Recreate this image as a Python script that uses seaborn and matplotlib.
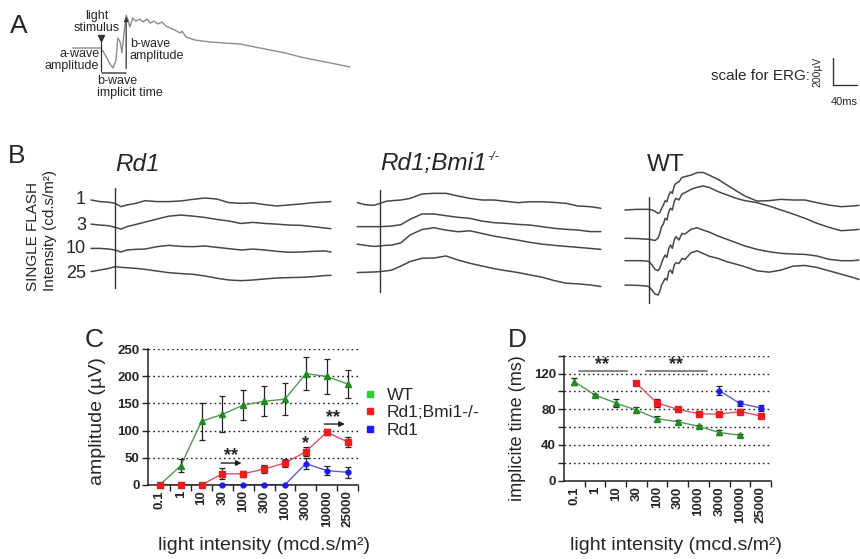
import numpy as np
import pandas as pd
import seaborn as sns
import matplotlib.pyplot as plt
from matplotlib.lines import Line2D

sns.set_style('white')
plt.rcParams['font.family'] = ['Liberation Sans', 'DejaVu Sans']

# ---------------- data ----------------
intensity = ['0.1', '1', '10', '30', '100', '300', '1000', '3000', '10000', '25000']
groups = ['WT', 'Rd1;Bmi1-/-', 'Rd1']
nan = np.nan

# C: b-wave amplitude (uV)
amp_wt = [0, 35, 117, 130, 147, 154, 158, 205, 200, 186]
amp_wt_err = [0, 12, 34, 33, 28, 28, 30, 31, 32, 25]
amp_bmi = [0, 0, 0, 20, 20, 29, 40, 61, 97, 79]
amp_bmi_err = [0, 0, 0, 10, 6, 7, 7, 8, 6, 9]
amp_rd1 = [nan, nan, nan, 0, 0, 0, 0, 39, 26, 23]
amp_rd1_err = [nan, nan, nan, 0, 0, 0, 0, 10, 9, 10]

# D: b-wave implicit time (ms)
imp_wt = [111, 96, 87, 79, 69.5, 66, 61, 54, 51, nan]
imp_wt_err = [4.3, 1.5, 4, 3.5, 3, 2, 1.5, 2.5, 1.5, nan]
imp_bmi = [nan, nan, nan, 109, 87, 80, 75, 74.5, 77.5, 72.5]
imp_bmi_err = [nan, nan, nan, 1.5, 4, 2.5, 3, 2.5, 2.5, 2.5]
imp_rd1 = [nan, nan, nan, nan, nan, nan, nan, 101, 86.5, 81.5]
imp_rd1_err = [nan, nan, nan, nan, nan, nan, nan, 5.5, 3, 3.5]

# A: example ERG (ms after flash, uV)
a_t = [-47, -18, 0, 7, 15, 20, 25, 28, 32, 35, 38, 42, 45, 48, 53, 58, 65, 70, 77, 82,
       88, 95, 102, 108, 115, 123, 132, 135, 142, 157, 182, 207, 232, 257, 282, 307, 332, 357, 382, 415]
a_v = [0, 0, 0, -52, -120, -150, -90, 75, 45, -37, 97, 247, 210, 157, 225, 202, 217, 195, 217, 187,
       202, 180, 195, 165, 150, 135, 112, 127, 82, 60, 45, 37, 30, 7, -15, -37, -67, -90, -112, -142]

# B: single flash ERGs (ms after flash, uV from own baseline), flashes 1, 3, 10, 25 cd.s/m2
flash_labels = ['1', '3', '10', '25']

rd1_t = [-40, -25, -10, 0, 10, 20, 35, 50, 70, 90, 110, 130, 150, 170, 190, 210, 230, 250, 270, 290, 310, 330, 350, 360]
rd1_1 = [5, -7, -12, -20, -45, -32, -20, 0, -7, -7, -2, 10, 20, 12, -15, -20, -17, -30, -40, -32, -25, -15, -10, -7]
rd1_3 = [7, 0, -5, -17, -30, -12, 5, 22, 45, 67, 75, 67, 57, 42, 30, 12, 20, 12, 7, 0, -2, -12, -22, -27]
rd1_10 = [7, 7, 2, -5, -20, -5, 0, 2, 20, 30, 22, 20, 25, 15, 5, -5, 2, -5, -15, -22, -20, -15, -12, -20]
rd1_25 = [-2, 10, 22, 35, 30, 27, 22, 15, 2, -10, -17, -22, -35, -52, -65, -70, -65, -57, -50, -47, -45, -40, -32, -30]
rd1_offsets = [-155, -338, -520, -685]

bmi_t = [-38, -25, -10, 0, 10, 20, 35, 50, 70, 90, 110, 130, 150, 170, 190, 210, 230, 250, 270, 290, 310, 330, 350, 368]
bmi_1 = [5, -10, -15, 0, 15, 20, 25, 37, 70, 75, 75, 55, 37, 25, 25, 15, 5, 12, 12, 7, 0, -20, -25, -37]
bmi_3 = [0, 0, 0, 0, 2, 5, 15, 55, 95, 95, 82, 70, 62, 42, 30, 25, 17, 12, 0, -12, -20, -25, -37, -37]
bmi_10 = [7, -2, -10, -7, -2, 0, 17, 75, 117, 130, 112, 100, 107, 87, 67, 52, 37, 20, 7, -2, -10, -17, -25, -32]
bmi_25 = [-2, 0, 2, 5, 10, 17, 47, 80, 105, 107, 122, 92, 67, 47, 27, 12, -2, -20, -37, -62, -82, -87, -95, -107]
bmi_offsets = [-175, -350, -488, -692]

wt_t = [-40, -20, -5, 0, 5, 10, 15, 18, 21, 24, 27, 30, 33, 36, 39, 42, 45, 50, 55, 60,
        70, 80, 90, 100, 115, 130, 145, 160, 180, 200, 220, 240, 260, 280, 300, 320, 340, 350]
wt_1 = [-5, 0, 0, 0, -5, -15, -30, -25, 7, 32, 65, 57, 107, 132, 120, 175, 195, 207, 240, 245,
        257, 275, 277, 257, 225, 182, 140, 100, 62, 65, 75, 70, 70, 50, 32, 20, 25, 30]
wt_3 = [0, -2, -7, -7, -12, -17, 0, 37, 87, 107, 150, 137, 200, 225, 212, 275, 300, 287, 332, 342,
        367, 382, 392, 382, 350, 325, 300, 282, 267, 242, 212, 182, 150, 112, 82, 57, 62, 67]
wt_10 = [-5, -5, -7, -12, -37, -70, -80, -62, -20, 12, 37, 20, 87, 112, 87, 150, 175, 150, 200, 195,
         230, 242, 225, 210, 180, 155, 130, 105, 80, 62, 50, 45, 42, 30, 5, -5, -5, 0]
wt_25 = [0, -2, -7, -12, -37, -67, -75, -50, 0, 25, 50, 37, 100, 112, 87, 150, 167, 162, 200, 192,
         242, 257, 237, 217, 200, 175, 157, 137, 107, 97, 112, 142, 147, 132, 107, 82, 57, 42]
wt_offsets = [-220, -437, -600, -788]

# flash marker extent (uV) in each B panel
stim_span = {'rd1': (-810, -60), 'bmi': (-840, -75), 'wt': (-923, -128)}

# scale bar (uV, ms)
scale_uv = 200
scale_ms = 40

# ---------------- figure ----------------
W, H = 860, 559
fig = plt.figure(figsize=(W / 100, H / 100), dpi=100)


def box(x0, y0, x1, y1):
    # pixel box (top-left origin) -> figure fraction rect
    return [x0 / W, 1 - y1 / H, (x1 - x0) / W, (y1 - y0) / H]


trace_col = '#474747'

# ---- panel A ----
axA = fig.add_axes(box(60, 5, 360, 105))
axA.set_xlim(-68.3, 431.7)
axA.set_ylim(-427.5, 322.5)
axA.axis('off')
axA.plot(a_t, a_v, color='#8c8c8c', lw=1.0)
axA.plot([0, 0], [-175, 70], color='#333333', lw=0.9)
axA.plot([0], [72], marker='v', ms=4, color='#333333')
axA.plot([1, 42], [-190, -190], color='#555555', lw=1.2)
axA.annotate('', xy=(42, 255), xytext=(42, -175),
             arrowprops=dict(arrowstyle='-|>', lw=0.9, color='#333333', mutation_scale=6))
fa = 9
axA.text(-7, 195, 'light\nstimulus', fontsize=fa, ha='center', va='center', linespacing=0.95)
axA.text(-3, -90, 'a-wave\namplitude', fontsize=fa, ha='right', va='center', linespacing=0.95)
axA.text(48, -15, 'b-wave\namplitude', fontsize=fa, ha='left', va='center', linespacing=0.95)
axA.text(-7, -292, 'b-wave\nimplicit time', fontsize=fa, ha='left', va='center', linespacing=0.95)

# scale bar
axS = fig.add_axes(box(825, 50, 860, 110))
axS.set_xlim(-13.3, 45)
axS.set_ylim(-187.5, 262.5)
axS.axis('off')
axS.plot([0, 0, scale_ms], [scale_uv, 0, 0], color='#333333', lw=1.0)
fig.text(810 / W, 1 - 76 / H, 'scale for ERG:', fontsize=11, ha='right', va='center')
fig.text(817 / W, 1 - 71.5 / H, '200µV', fontsize=7.5, rotation=90, ha='center', va='center')
fig.text(844 / W, 1 - 102 / H, '40ms', fontsize=8, ha='center', va='center')

# ---- panel B ----
panels = [
    ('rd1', box(85, 160, 340, 320), (-50, 375), rd1_t, [rd1_1, rd1_3, rd1_10, rd1_25], rd1_offsets),
    ('bmi', box(350, 160, 610, 320), (-50, 383.3), bmi_t, [bmi_1, bmi_3, bmi_10, bmi_25], bmi_offsets),
    ('wt', box(620, 160, 860, 320), (-48.3, 351.7), wt_t, [wt_1, wt_3, wt_10, wt_25], wt_offsets),
]
for key, rect, xl, t, traces, offs in panels:
    ax = fig.add_axes(rect)
    ax.set_xlim(*xl)
    ax.set_ylim(-1050, 150)
    ax.axis('off')
    for tr, off in zip(traces, offs):
        ax.plot(t, np.array(tr) + off, color=trace_col, lw=1.1)
    lo, hi = stim_span[key]
    ax.plot([0, 0], [lo, hi], color='#333333', lw=1.0)

fig.text(115 / W, 1 - 171 / H, 'Rd1', fontsize=17.5, style='italic', ha='left', va='baseline')
fig.text(380 / W, 1 - 170 / H, 'Rd1;Bmi1', fontsize=17.5, style='italic', ha='left', va='baseline')
fig.text(487 / W, 1 - 160 / H, '-/-', fontsize=9, style='italic', ha='left', va='baseline')
fig.text(647 / W, 1 - 171 / H, 'WT', fontsize=17.5, ha='left', va='baseline')
for lab, yy in zip(flash_labels, [200, 225, 249, 273]):
    fig.text(86 / W, 1 - yy / H, lab, fontsize=13, ha='right', va='center')
fig.text(33 / W, 1 - 291 / H, 'SINGLE FLASH', fontsize=11, rotation=90, ha='center', va='bottom')
fig.text(50 / W, 1 - 291 / H, 'Intensity (cd.s/m²)', fontsize=11, rotation=90, ha='center', va='bottom')

# panel letters
for lab, x, y in [('A', 10, 33), ('B', 8, 163), ('C', 85, 347), ('D', 508, 347)]:
    fig.text(x / W, 1 - y / H, lab, fontsize=19, ha='left', va='baseline')

# ---- panels C and D ----
line_cols = ['#4f9a4f', '#e0506a', '#5c5cd0']
mark_cols = ['#1f8a1f', '#ee1c1c', '#1a1aff']
markers = ['^', 's', 'o']
msizes = [4.5, 4.5, 3.5]
legend_cols = ['#2bd42b', '#ff1a1a', '#1a1aff']
pos = np.arange(len(intensity))


def style_axis(ax, xl):
    ax.set_xlim(*xl)
    ax.set_xticks(pos)
    ax.set_xticklabels(intensity, rotation=90)
    ax.set_xticks(pos + 0.5, minor=True)
    ax.tick_params(axis='x', which='major', length=0, pad=4, labelsize=9.5)
    ax.tick_params(axis='x', which='minor', length=4, width=1, color='#222222', direction='out')
    ax.tick_params(axis='y', which='both', length=4, width=1, color='#222222', direction='out',
                   left=True, labelsize=9.5, pad=2)
    ax.tick_params(axis='x', which='minor', bottom=True)
    for lbl in ax.get_xticklabels() + ax.get_yticklabels():
        lbl.set_fontweight('bold')
    for s in ['top', 'right']:
        ax.spines[s].set_visible(False)
    for s in ['left', 'bottom']:
        ax.spines[s].set_color('#222222')
        ax.spines[s].set_linewidth(1.1)


def draw_series(ax, vals, errs):
    for i, (v, e) in enumerate(zip(vals, errs)):
        df = pd.DataFrame({'x': pos, 'y': v, 'e': e}).dropna()
        sns.lineplot(data=df, x='x', y='y', ax=ax, color=line_cols[i], lw=1.0, sort=False,
                     errorbar=None, zorder=2)
        ax.errorbar(df['x'], df['y'], yerr=df['e'], fmt=markers[i], ms=msizes[i],
                    color=mark_cols[i], ecolor='#222222', elinewidth=0.9, capsize=2.5,
                    capthick=0.9, zorder=3, clip_on=False)


grid_kw = dict(linestyle=(0, (1.2, 2.2)), color='#222222', lw=1.0)

axC = fig.add_axes(box(148, 349.3, 358, 484.7))
draw_series(axC, [amp_wt, amp_bmi, amp_rd1], [amp_wt_err, amp_bmi_err, amp_rd1_err])
axC.set_ylim(0, 250)
axC.set_yticks([0, 50, 100, 150, 200, 250])
style_axis(axC, (-0.57, 9.5))
axC.yaxis.grid(True, **grid_kw)
axC.set_axisbelow(True)
axC.set_xlabel('light intensity (mcd.s/m²)', fontsize=14)
axC.xaxis.set_label_coords((264 - 148) / 210, (484.7 - 537) / 135.4)
axC.set_ylabel('amplitude (µV)', fontsize=14)
axC.yaxis.set_label_coords((106 - 148) / 210, (484.7 - 421) / 135.4)

star_kw = dict(fontsize=13, fontweight='bold', ha='center', va='center')
arr_kw = dict(arrowstyle='-|>', lw=1.0, color='#222222', mutation_scale=8)
axC.text(3.4, 53, '**', **star_kw)
axC.annotate('', xy=(4.05, 40), xytext=(2.8, 40), arrowprops=arr_kw)
axC.text(7.0, 75, '*', **star_kw)
axC.text(8.3, 124, '**', **star_kw)
axC.annotate('', xy=(9.0, 112), xytext=(7.75, 112), arrowprops=arr_kw)

axD = fig.add_axes(box(564.3, 355.7, 771, 480.7))
draw_series(axD, [imp_wt, imp_bmi, imp_rd1], [imp_wt_err, imp_bmi_err, imp_rd1_err])
axD.set_ylim(0, 140)
axD.set_yticks([0, 40, 80, 120])
axD.set_yticks([20, 60, 100, 140], minor=True)
style_axis(axD, (-0.48, 9.48))
axD.yaxis.grid(True, which='both', **grid_kw)
axD.set_axisbelow(True)
axD.set_xlabel('light intensity (mcd.s/m²)', fontsize=14)
axD.xaxis.set_label_coords((676 - 564.3) / 206.7, (480.7 - 537) / 125)
axD.set_ylabel('implicite time (ms)', fontsize=13)
axD.yaxis.set_label_coords((526 - 564.3) / 206.7, (480.7 - 428) / 125)
axD.plot([0.23, 2.55], [123.4, 123.4], color='#888888', lw=1.5)
axD.plot([3.45, 6.4], [123.4, 123.4], color='#888888', lw=1.5)
axD.text(1.35, 130, '**', **star_kw)
axD.text(4.9, 130, '**', **star_kw)

handles = [Line2D([], [], ls='', marker='s', ms=5, color=c) for c in legend_cols]
fig.legend(handles, groups, loc='upper left', bbox_to_anchor=(364 / W, 1 - 388 / H),
           bbox_transform=fig.transFigure, frameon=False, fontsize=12.5, handlelength=0.7,
           handletextpad=0.6, labelspacing=0.12, borderpad=0, borderaxespad=0)

fig.savefig('out.png', dpi=100)
